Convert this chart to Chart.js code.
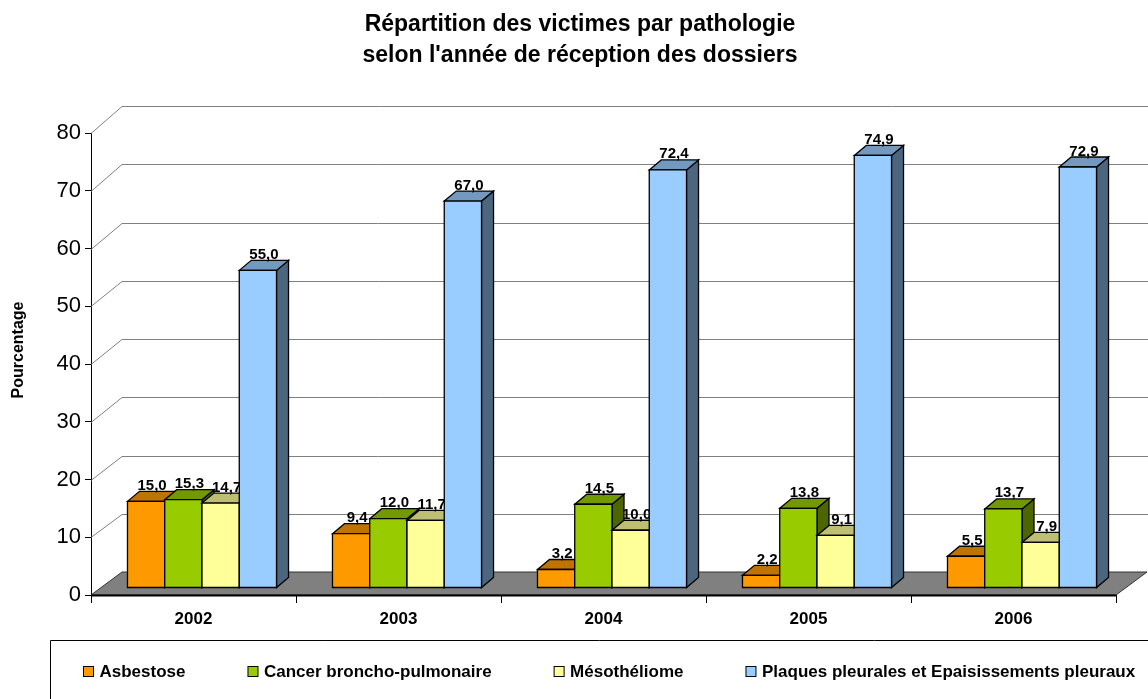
<!DOCTYPE html>
<html>
<head>
<meta charset="utf-8">
<script src="https://cdn.jsdelivr.net/npm/chart.js@4.4.1/dist/chart.umd.min.js"></script>
<style>
html,body{margin:0;padding:0;background:#ffffff;}
#wrap{width:1148px;height:699px;position:relative;}
</style>
</head>
<body>
<div id="wrap"><canvas id="c" width="1148" height="699"></canvas></div>
<script>
// ---- data ----
const categories = ['2002', '2003', '2004', '2005', '2006'];
const asbestose = [15.0, 9.4, 3.2, 2.2, 5.5];
const cancer = [15.3, 12.0, 14.5, 13.8, 13.7];
const mesotheliome = [14.7, 11.7, 10.0, 9.1, 7.9];
const plaques = [55.0, 67.0, 72.4, 74.9, 72.9];
const seriesNames = ['Asbestose', 'Cancer broncho-pulmonaire', 'Mésothéliome', 'Plaques pleurales et Epaisissements pleuraux'];
const yTicks = [0, 10, 20, 30, 40, 50, 60, 70, 80];
const titleLines = ["Répartition des victimes par pathologie", "selon l'année de réception des dossiers"];
const yTitle = 'Pourcentage';

// ---- style ----
const FONT = '"Liberation Sans", Arial, Helvetica, sans-serif';
const seriesColors = ['#FF9900', '#99CC00', '#FFFF99', '#99CCFF'];
const WALL_DX = 31, WALL_DY0 = -23, WALL_DY1 = -27;   // depth of floor / back wall
const BAR_SHIFT_X = 8.5, BAR_SHIFT_Y = -7;            // bars stand mid-depth on the floor
const BAR_DX = 12, BAR_DY = -10;                      // bar depth

function shade(hex, f) {
  const n = parseInt(hex.slice(1), 16);
  const r = Math.round(((n >> 16) & 255) * f), g = Math.round(((n >> 8) & 255) * f), b = Math.round((n & 255) * f);
  return 'rgb(' + r + ',' + g + ',' + b + ')';
}
function fmt(v) { return v.toFixed(1).replace('.', ','); }

function poly(ctx, pts, fill) {
  ctx.beginPath();
  ctx.moveTo(pts[0][0], pts[0][1]);
  for (let i = 1; i < pts.length; i++) ctx.lineTo(pts[i][0], pts[i][1]);
  ctx.closePath();
  ctx.fillStyle = fill;
  ctx.fill();
  ctx.stroke();
}

const threeD = {
  id: 'threeD',
  beforeDatasetsDraw(chart) {
    const ctx = chart.ctx, ys = chart.scales.y, xs = chart.scales.x;
    const y0 = ys.getPixelForValue(ys.min), yMax = ys.getPixelForValue(ys.max);
    const dyAt = (py) => WALL_DY0 + (WALL_DY1 - WALL_DY0) * (y0 - py) / (y0 - yMax);
    ctx.save();
    // back wall + side wall gridlines
    ctx.strokeStyle = '#808080';
    ctx.lineWidth = 1;
    ys.ticks.forEach(t => {
      if (t.value === ys.min) return;
      const py = ys.getPixelForValue(t.value);
      const by = Math.round(py + dyAt(py)) + 0.5;
      ctx.beginPath();
      ctx.moveTo(xs.left, Math.round(py) + 0.5);
      ctx.lineTo(xs.left + WALL_DX, by);
      ctx.lineTo(chart.width, by);
      ctx.stroke();
    });
    // floor
    const fy = y0 + WALL_DY0;
    ctx.beginPath();
    ctx.moveTo(xs.left, y0);
    ctx.lineTo(xs.right, y0);
    ctx.lineTo(xs.right + WALL_DX, fy);
    ctx.lineTo(xs.left + WALL_DX, fy);
    ctx.closePath();
    ctx.fillStyle = '#808080';
    ctx.fill();
    ctx.strokeStyle = '#333333';
    ctx.lineWidth = 1;
    ctx.stroke();
    ctx.beginPath();
    ctx.moveTo(xs.left, y0 + 0.5);
    ctx.lineTo(xs.right, y0 + 0.5);
    ctx.strokeStyle = '#000';
    ctx.lineWidth = 2;
    ctx.stroke();
    ctx.restore();
  },
  beforeDatasetDraw() { return false; },
  afterDatasetsDraw(chart) {
    const ctx = chart.ctx;
    const metas = chart.getSortedVisibleDatasetMetas();
    ctx.save();
    ctx.lineWidth = 1.3;
    ctx.strokeStyle = '#000';
    ctx.lineJoin = 'miter';
    for (let i = 0; i < categories.length; i++) {
      metas.forEach(meta => {
        const ds = chart.data.datasets[meta.index];
        const el = meta.data[i];
        const p = el.getProps(['x', 'y', 'base', 'width'], true);
        const L = p.x - p.width / 2 + BAR_SHIFT_X, R = p.x + p.width / 2 + BAR_SHIFT_X;
        const T = p.y + BAR_SHIFT_Y, B = p.base + BAR_SHIFT_Y;
        const col = ds.backgroundColor;
        ctx.strokeStyle = '#000';
        ctx.lineWidth = 1.3;
        poly(ctx, [[R, T], [R + BAR_DX, T + BAR_DY], [R + BAR_DX, B + BAR_DY], [R, B]], shade(col, 0.5));
        poly(ctx, [[L, T], [L + BAR_DX, T + BAR_DY], [R + BAR_DX, T + BAR_DY], [R, T]], shade(col, 0.75));
        poly(ctx, [[L, T], [R, T], [R, B], [L, B]], col);
        // value label
        ctx.fillStyle = '#000';
        ctx.font = 'bold 15px ' + FONT;
        ctx.textAlign = 'center';
        ctx.textBaseline = 'alphabetic';
        ctx.fillText(fmt(ds.data[i]), (L + R) / 2 + BAR_DX / 2, T + BAR_DY - 1.5);
      });
    }
    ctx.restore();
  },
  afterDraw(chart) {
    const ctx = chart.ctx;
    ctx.save();
    // title
    ctx.fillStyle = '#000';
    ctx.font = 'bold 23px ' + FONT;
    ctx.textAlign = 'center';
    ctx.textBaseline = 'alphabetic';
    ctx.fillText(titleLines[0], 580, 31);
    ctx.fillText(titleLines[1], 580, 62);
    // y axis title
    ctx.save();
    ctx.translate(18.5, 350);
    ctx.rotate(-Math.PI / 2);
    ctx.font = 'bold 16px ' + FONT;
    ctx.textBaseline = 'middle';
    ctx.fillText(yTitle, 0, 0);
    ctx.restore();
    // legend frame
    ctx.strokeStyle = '#000';
    ctx.lineWidth = 1;
    ctx.beginPath();
    ctx.moveTo(50.5, chart.height + 2);
    ctx.lineTo(50.5, 640.5);
    ctx.lineTo(chart.width + 2, 640.5);
    ctx.stroke();
    // legend items
    ctx.font = 'bold 17px ' + FONT;
    ctx.textAlign = 'left';
    ctx.textBaseline = 'alphabetic';
    let x = 83;
    chart.data.datasets.forEach(ds => {
      ctx.fillStyle = ds.backgroundColor;
      ctx.fillRect(x + 0.5, 666.5, 10, 10);
      ctx.strokeRect(x + 0.5, 666.5, 10, 10);
      ctx.fillStyle = '#000';
      ctx.fillText(ds.label, x + 16.5, 677);
      x += 16.5 + ctx.measureText(ds.label).width + 62;
    });
    ctx.restore();
  }
};

const seriesData = [asbestose, cancer, mesotheliome, plaques];

new Chart(document.getElementById('c'), {
  type: 'bar',
  data: {
    labels: categories,
    datasets: seriesData.map((d, k) => ({
      label: seriesNames[k],
      data: d,
      backgroundColor: seriesColors[k],
      categoryPercentage: 0.727,
      barPercentage: 1.0
    }))
  },
  options: {
    responsive: false,
    animation: false,
    devicePixelRatio: 1,
    layout: { padding: { top: 133, right: 32, bottom: 0, left: 0 } },
    plugins: { legend: { display: false }, title: { display: false }, tooltip: { enabled: false } },
    scales: {
      x: {
        offset: true,
        grid: { display: true, offset: true, drawOnChartArea: false, drawTicks: true, tickLength: 8, tickColor: '#000', color: '#000' },
        border: { display: true, color: '#000' },
        ticks: { color: '#000', padding: 6, font: { family: FONT, size: 17, weight: 'bold' } },
        afterFit(s) { s.height = 104; }
      },
      y: {
        min: 0, max: 80,
        afterBuildTicks(s) { s.ticks = yTicks.map(v => ({ value: v })); },
        ticks: { color: '#000', padding: 4, font: { family: FONT, size: 22 } },
        grid: { drawOnChartArea: false, drawTicks: true, tickLength: 6, tickColor: '#000', color: '#000' },
        border: { display: true, color: '#000' },
        afterFit(s) { s.width = 91; }
      }
    }
  },
  plugins: [threeD]
});
</script>
</body>
</html>
